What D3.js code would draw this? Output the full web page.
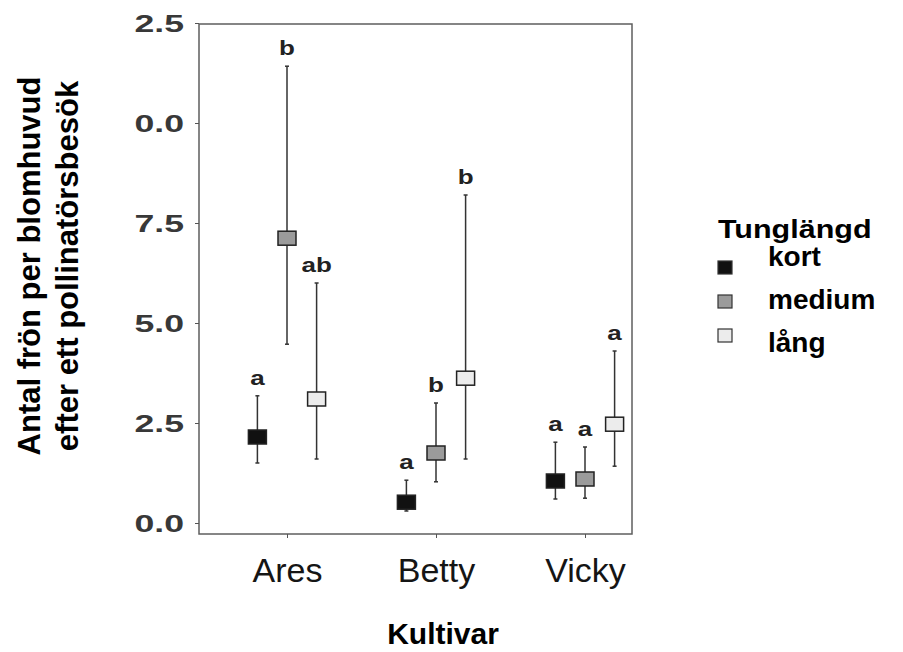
<!DOCTYPE html>
<html><head><meta charset="utf-8">
<script src="https://cdn.jsdelivr.net/npm/d3@7"></script>
<style>body{margin:0;background:#fff}</style>
</head><body>
<svg id="c" width="903" height="652"></svg>
<script>
// ---- data ----
const categories = ["Ares", "Betty", "Vicky"];
const series = ["kort", "medium", "lång"];
const meanKort   = [2.15, 0.52, 1.05];
const lowKort    = [1.50, 0.30, 0.60];
const highKort   = [3.18, 1.07, 2.02];
const letterKort = ["a", "a", "a"];
const meanMedium   = [7.12, 1.75, 1.10];
const lowMedium    = [4.47, 1.03, 0.62];
const highMedium   = [11.42, 3.00, 1.90];
const letterMedium = ["b", "b", "a"];
const meanLang   = [3.10, 3.62, 2.47];
const lowLang    = [1.60, 1.60, 1.42];
const highLang   = [6.00, 8.20, 4.30];
const letterLang = ["ab", "b", "a"];
const yTicks = [0, 2.5, 5, 7.5, 10, 12.5];
const seriesFill = ["#111111", "#9b9b9b", "#ececec"];
const yTitle = ["Antal frön per blomhuvud", "efter ett pollinatörsbesök"];
const xTitle = "Kultivar";
const legendTitle = "Tunglängd";

const seriesData = [
  {name: series[0], mean: meanKort, low: lowKort, high: highKort, letter: letterKort},
  {name: series[1], mean: meanMedium, low: lowMedium, high: highMedium, letter: letterMedium},
  {name: series[2], mean: meanLang, low: lowLang, high: highLang, letter: letterLang}
];
const points = [];
seriesData.forEach((s, si) => categories.forEach((c, ci) => points.push({
  cat: c, ser: s.name, si, mean: s.mean[ci], low: s.low[ci], high: s.high[ci], letter: s.letter[ci]
})));

// ---- layout ----
const svg = d3.select("#c");
const panelLeft = 199, panelRight = 632;
const y = d3.scaleLinear().domain([0, 12.5]).range([523, 23]);
const x = d3.scalePoint().domain(categories).range([287, 585]);
const dodge = d3.scalePoint().domain(series).range([-29.6, 29.6]);
const color = d3.scaleOrdinal().domain(series).range(seriesFill);
const panelTop = y(12.5) + 1, panelBottom = y(-0.275);

// panel border
svg.append("rect")
  .attr("x", panelLeft).attr("y", panelTop)
  .attr("width", panelRight - panelLeft).attr("height", panelBottom - panelTop)
  .attr("fill", "none").attr("stroke", "#5e5e5e").attr("stroke-width", 1.5);

// y axis (left edge of the labels is cut off, as in the source image)
const sxTick = 1.55;
svg.append("clipPath").attr("id", "yclip")
  .append("rect").attr("x", 134 - panelLeft).attr("y", -10).attr("width", 80).attr("height", 600);
const yAxis = svg.append("g")
  .attr("transform", `translate(${panelLeft},0)`)
  .call(d3.axisLeft(y).tickValues(yTicks).tickSize(4).tickFormat(d3.format(".1f")));
yAxis.select(".domain").remove();
yAxis.attr("clip-path", "url(#yclip)");
yAxis.selectAll(".tick line").attr("stroke", "#555");
yAxis.selectAll(".tick text")
  .attr("x", -15 / sxTick)
  .attr("dy", "0.36em")
  .attr("transform", `scale(${sxTick},1)`)
  .attr("font-family", "Liberation Sans, Arial, sans-serif")
  .attr("font-weight", "bold")
  .attr("font-size", 23)
  .attr("fill", "#383838");

// x axis
const xAxis = svg.append("g")
  .attr("transform", `translate(0,${panelBottom})`)
  .call(d3.axisBottom(x).tickSize(4));
xAxis.select(".domain").remove();
xAxis.selectAll(".tick line").attr("stroke", "#555");
xAxis.selectAll(".tick text")
  .attr("y", 48).attr("dy", 0)
  .attr("font-family", "Liberation Sans, Arial, sans-serif")
  .attr("font-size", 34)
  .attr("fill", "#151515");

// error bars
const eb = svg.append("g").attr("stroke", "#333").attr("stroke-width", 1.5).attr("fill", "none");
points.forEach(p => {
  const cx = x(p.cat) + dodge(p.ser);
  eb.append("line").attr("x1", cx).attr("x2", cx).attr("y1", y(p.low)).attr("y2", y(p.high));
  eb.append("line").attr("x1", cx - 2).attr("x2", cx + 2).attr("y1", y(p.low)).attr("y2", y(p.low));
  eb.append("line").attr("x1", cx - 2).attr("x2", cx + 2).attr("y1", y(p.high)).attr("y2", y(p.high));
});

// points
svg.append("g").selectAll("rect").data(points).join("rect")
  .attr("x", d => x(d.cat) + dodge(d.ser) - 9)
  .attr("y", d => y(d.mean) - 7)
  .attr("width", 18).attr("height", 14)
  .attr("fill", d => color(d.ser))
  .attr("stroke", "#222").attr("stroke-width", 1.5);

// significance letters
const sxLet = 1.3;
svg.append("g").selectAll("g").data(points).join("g")
  .attr("transform", d => `translate(${x(d.cat) + dodge(d.ser)},${y(d.high) - 11}) scale(${sxLet},1)`)
  .append("text")
  .attr("text-anchor", "middle")
  .attr("font-family", "Liberation Sans, Arial, sans-serif")
  .attr("font-weight", "bold")
  .attr("font-size", 20)
  .attr("fill", "#222")
  .text(d => d.letter);

// y title
const yt = svg.append("g").attr("transform", "translate(0,266) rotate(-90)");
yt.selectAll("text").data(yTitle).join("text")
  .attr("x", 0).attr("y", (d, i) => 40 + i * 38)
  .attr("text-anchor", "middle")
  .attr("font-family", "Liberation Sans, Arial, sans-serif")
  .attr("font-weight", "bold").attr("font-size", 31).attr("fill", "#000")
  .text(d => d);

// x title
svg.append("text").attr("x", 443).attr("y", 644)
  .attr("text-anchor", "middle")
  .attr("font-family", "Liberation Sans, Arial, sans-serif")
  .attr("font-weight", "bold").attr("font-size", 30).attr("fill", "#000")
  .text(xTitle);

// legend
const lg = svg.append("g");
lg.append("g").attr("transform", "translate(718,238) scale(1.22,1)")
  .append("text")
  .attr("font-family", "Liberation Sans, Arial, sans-serif")
  .attr("font-weight", "bold").attr("font-size", 25).attr("fill", "#000")
  .text(legendTitle);
const keyY = d3.scalePoint().domain(series).range([268, 336]);
lg.selectAll("rect").data(series).join("rect")
  .attr("x", 718).attr("y", d => keyY(d) - 7)
  .attr("width", 14).attr("height", 13)
  .attr("fill", d => color(d)).attr("stroke", "#333").attr("stroke-width", 1.2);
const labY = d3.scalePoint().domain(series).range([266, 352]);
lg.selectAll("text.lab").data(series).join("text").attr("class", "lab")
  .attr("x", 768).attr("y", d => labY(d))
  .attr("font-family", "Liberation Sans, Arial, sans-serif")
  .attr("font-weight", "bold").attr("font-size", 28).attr("fill", "#000")
  .text(d => d);
</script>
</body></html>
